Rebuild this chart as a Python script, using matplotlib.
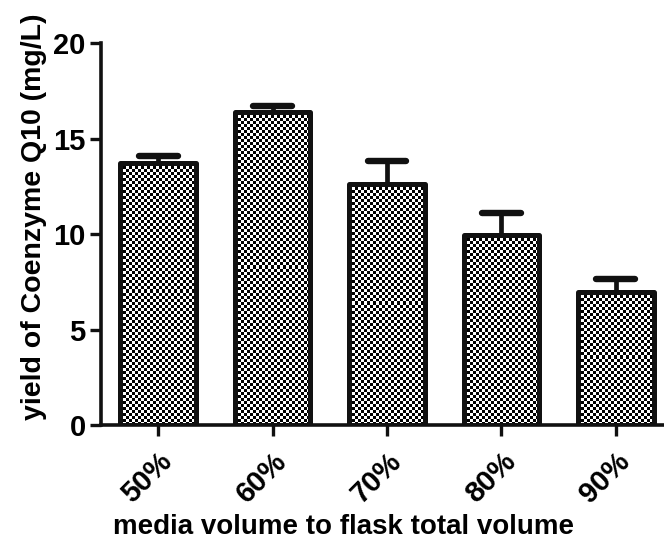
import numpy as np
import matplotlib
matplotlib.use("Agg")
import matplotlib.pyplot as plt

# ratio of medium volume to flask volume vs. CoQ10 yield
kategorije = ["50%", "60%", "70%", "80%", "90%"]
prinos = [13.7, 16.4, 12.6, 9.95, 6.95]
greska = [0.4, 0.3, 1.2, 1.15, 0.7]

plt.rcParams["font.family"] = ["Liberation Sans", "DejaVu Sans"]
plt.rcParams["font.weight"] = "bold"

fig = plt.figure(figsize=(6.64, 5.43), dpi=100)
ax = fig.add_axes([0.152, 0.2173, 0.848, 0.7035])

x = np.arange(len(kategorije))
sirina = 0.66
stupci = ax.bar(x, prinos, width=sirina, facecolor="none", edgecolor="#111111",
                linewidth=3.6, zorder=3)
for s in stupci:
    s.set_joinstyle("round")

# checkerboard fill, roughly 3 px cells, clipped to each bar
px_x = 1 / 114.5
px_y = 1 / 19.1
for s in stupci:
    x0, y0 = s.get_x(), s.get_y()
    w, h = s.get_width(), s.get_height()
    nx = int(round(w / px_x / 3))
    ny = int(round(h / px_y / 3))
    ii, jj = np.indices((ny, nx))
    sah = ((ii + jj) % 2).astype(float)
    img = ax.imshow(sah, cmap="gray", vmin=0.05, vmax=1, interpolation="nearest",
                    extent=[x0, x0 + nx * 3 * px_x, y0, y0 + ny * 3 * px_y],
                    origin="lower", aspect="auto", zorder=2)
    img.set_clip_path(s)

# only the upper half of the error bar, with rounded caps
ax.vlines(x, prinos, np.array(prinos) + np.array(greska), color="#111111",
          linewidth=3.4, zorder=4)
ax.hlines(np.array(prinos) + np.array(greska), x - 0.17, x + 0.17,
          color="#111111", linewidth=4.6, capstyle="round", zorder=4)

ax.set_xlim(-0.5, 4.42)
ax.set_ylim(0, 20)
ax.set_yticks([0, 5, 10, 15, 20])
ax.set_xticks(x)
ax.set_xticklabels(kategorije, rotation=45, ha="right", rotation_mode="anchor")

for side in ["top", "right"]:
    ax.spines[side].set_visible(False)
for side in ["left", "bottom"]:
    ax.spines[side].set_linewidth(2.6)
    ax.spines[side].set_color("#111111")
ax.tick_params(axis="both", width=2.4, length=8, color="#111111",
               labelsize=21, pad=3)
ax.tick_params(axis="x", pad=8)

ax.set_ylabel("yield of Coenzyme Q10 (mg/L)", fontsize=20.5, fontweight="bold")
ax.set_xlabel("media volume to flask total volume", fontsize=20, fontweight="bold")
ax.yaxis.set_label_coords(-0.096, 0.545)
ax.xaxis.set_label_coords(0.43, -0.232)

fig.savefig("out.png", dpi=100)
